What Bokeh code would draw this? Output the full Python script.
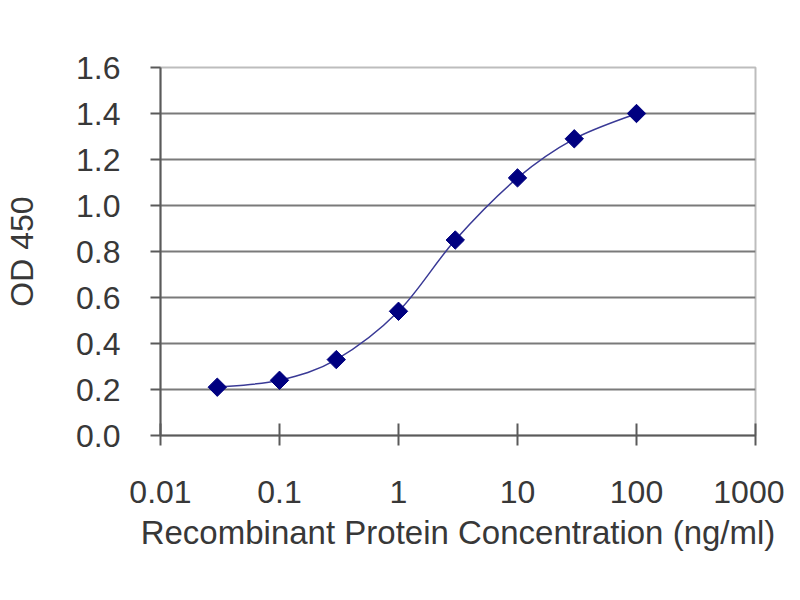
from bokeh.plotting import figure
from bokeh.models import Range1d, FixedTicker, NumeralTickFormatter
from bokeh.embed import file_html
from bokeh.resources import INLINE
import math

# concentration (ng/ml) and measured OD 450
conc = [0.03, 0.1, 0.3, 1, 3, 10, 30, 100]
od = [0.21, 0.24, 0.33, 0.54, 0.85, 1.12, 1.29, 1.40]

xticks = [0.01, 0.1, 1, 10, 100, 1000]
xtick_labels = ["0.01", "0.1", "1", "10", "100", "1000"]
yticks = [0.0, 0.2, 0.4, 0.6, 0.8, 1.0, 1.2, 1.4, 1.6]
ygrid_ticks = [0.2, 0.4, 0.6, 0.8, 1.0, 1.2, 1.4]

FONT = "Liberation Sans"

p = figure(x_axis_type="log", x_range=Range1d(0.01, 1000), y_range=Range1d(0, 1.6),
           frame_width=595, frame_height=368,
           min_border_left=160, min_border_right=29, min_border_top=67, min_border_bottom=149,
           output_backend="svg", toolbar_location=None,
           x_axis_label="Recombinant Protein Concentration (ng/ml)", y_axis_label="OD 450")

p.background_fill_color = "white"
p.border_fill_color = "white"
p.outline_line_color = "#bdbdbd"
p.outline_line_width = 2

# smoothed line like the spreadsheet one: catmull-rom segments as beziers in log-x space
lx = [math.log10(v) for v in conc]
x0, y0, x1, y1, cx0, cy0, cx1, cy1 = [], [], [], [], [], [], [], []
n = len(conc)
for i in range(n - 1):
    a = max(i - 1, 0)
    b = min(i + 2, n - 1)
    x0.append(conc[i])
    y0.append(od[i])
    x1.append(conc[i + 1])
    y1.append(od[i + 1])
    cx0.append(10 ** (lx[i] + (lx[i + 1] - lx[a]) / 6))
    cy0.append(od[i] + (od[i + 1] - od[a]) / 6)
    cx1.append(10 ** (lx[i + 1] - (lx[b] - lx[i]) / 6))
    cy1.append(od[i + 1] - (od[b] - od[i]) / 6)

p.bezier(x0=x0, y0=y0, x1=x1, y1=y1, cx0=cx0, cy0=cy0, cx1=cx1, cy1=cy1,
         line_color="#3a3a96", line_width=1.5)

p.scatter(conc, od, marker="square", angle=math.pi / 4, size=13,
          fill_color="#000080", line_color="#000080")

# grid
p.xgrid.visible = False
p.ygrid.ticker = FixedTicker(ticks=ygrid_ticks)
p.ygrid.grid_line_color = "#7a7a7a"
p.ygrid.grid_line_width = 2

# x axis
xa = p.xaxis[0]
xa.ticker = FixedTicker(ticks=xticks, minor_ticks=[])
xa.major_label_overrides = dict(zip(xticks, xtick_labels))
xa.axis_line_color = "#5a5a5a"
xa.axis_line_width = 2
xa.major_tick_line_color = "#5a5a5a"
xa.major_tick_line_width = 2
xa.major_tick_in = 12
xa.major_tick_out = 10
xa.minor_tick_line_color = None
xa.major_label_standoff = 35
xa.major_label_text_font = FONT
xa.major_label_text_font_size = "32px"
xa.major_label_text_color = "#383838"
xa.axis_label_standoff = 8
xa.axis_label_text_font = FONT
xa.axis_label_text_font_size = "33px"
xa.axis_label_text_font_style = "normal"
xa.axis_label_text_color = "#383838"

# y axis
ya = p.yaxis[0]
ya.ticker = FixedTicker(ticks=yticks, minor_ticks=[])
ya.formatter = NumeralTickFormatter(format="0.0")
ya.axis_line_color = "#5a5a5a"
ya.axis_line_width = 2
ya.major_tick_line_color = "#5a5a5a"
ya.major_tick_line_width = 2
ya.major_tick_in = 0
ya.major_tick_out = 10
ya.minor_tick_line_color = None
ya.major_label_standoff = 30
ya.major_label_text_font = FONT
ya.major_label_text_font_size = "32px"
ya.major_label_text_color = "#383838"
ya.axis_label_standoff = 33
ya.axis_label_text_font = FONT
ya.axis_label_text_font_size = "32px"
ya.axis_label_text_font_style = "normal"
ya.axis_label_text_color = "#383838"

open("out.html", "w").write(file_html(p, INLINE))
